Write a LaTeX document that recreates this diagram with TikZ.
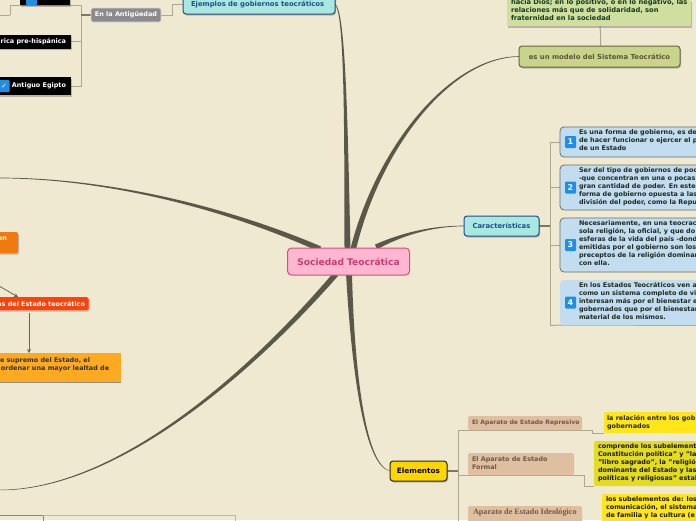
\documentclass[tikz,border=0pt]{standalone}
\usepackage{fontspec}
\setmainfont{DejaVu Sans}
\newfontfamily\seriffam{Liberation Serif}
\usetikzlibrary{calc,backgrounds,shadows,arrows.meta}
\definecolor{bg}{HTML}{EFE9D2}
\definecolor{trunkc}{HTML}{5A5848}
\definecolor{linec}{HTML}{ADA78F}
\definecolor{stubc}{HTML}{7D7866}
\definecolor{cardfill}{HTML}{C2DDF0}
\definecolor{cardline}{HTML}{6E6E60}
\definecolor{teal}{HTML}{A8E8E0}
\definecolor{navy}{HTML}{1F4E8C}
\definecolor{iconblue}{HTML}{1E8EE6}
\definecolor{tan}{HTML}{E0BFA0}
\definecolor{tantext}{HTML}{6B5A4A}
\definecolor{darktxt}{HTML}{1E2A20}
\tikzset{
  x=1pt,y=-1pt,
  lbl/.style={font=\bfseries\fontsize{6.85}{8}\selectfont,inner sep=0pt,outer sep=0pt},
  small/.style={font=\bfseries\fontsize{6.45}{8}\selectfont},
  boxn/.style={lbl,anchor=north west,align=left,rounded corners=#1},
  boxn/.default=3pt,
  softshadow/.style={general shadow={shadow xshift=1pt,shadow yshift=-1.5pt,fill=black,opacity=.22}},
  conn/.style={draw=linec,line width=1pt},
  stub/.style={draw=stubc,line width=1.6pt},
  arrowc/.style={draw=stubc!85!black,line width=.8pt,-{Stealth[length=4pt,width=4pt]}},
  iconbox/.style={lbl,fill=iconblue,text=white,minimum width=11pt,minimum height=12pt,align=center,rounded corners=1pt,font=\bfseries\fontsize{8}{8}\selectfont},
  card/.style={boxn=4pt,fill=cardfill,minimum width=220pt},
}
\newcommand{\trunk}[6]{% start, c1, c2, end, offset x, offset y (at the start)
  \fill[trunkc] ($#1+(#5,#6)$) .. controls ($#2+(#5*.55,#6*.55)$) and ($#3+(#5*.2,#6*.2)$) .. ($#4+(#5*.12,#6*.12)$)
   -- ($#4-(#5*.12,#6*.12)$) .. controls ($#3-(#5*.2,#6*.2)$) and ($#2-(#5*.55,#6*.55)$) .. ($#1-(#5,#6)$) -- cycle;}
\begin{document}
\begin{tikzpicture}
\useasboundingbox (0,0) rectangle (696,520);
\clip (0,0) rectangle (696,520);
\begin{scope}[on background layer]
\fill[bg] (0,0) rectangle (696,520);
\end{scope}

% central
\node[lbl,anchor=center,fill={rgb,255:red,255;green,182;blue,208},draw={rgb,255:red,208;green,80;blue,128},line width=1pt,rounded corners=4pt,minimum width=122pt,minimum height=27pt,text={rgb,255:red,200;green,62;blue,116},font=\bfseries\fontsize{9.1}{9}\selectfont] (central) at (348.5,261.5) {Sociedad Teocrática};

% top left
\node[lbl,fill=black,anchor=south west,minimum width=50pt,minimum height=20pt,softshadow] (egA) at (20,5) {};
\node[iconbox,anchor=south west,minimum height=6pt] (egAi) at (26,5) {};
\node[lbl,fill=black,anchor=east,minimum width=90pt,minimum height=14pt,softshadow] (egB) at (71,41.5) {};
\node[lbl,small,text=white,anchor=east] (egBT) at (66,41.5) {rica pre-hispánica};
\node[lbl,fill=black,anchor=east,minimum width=90pt,minimum height=18pt,softshadow] (egC) at (71,86) {};
\node[lbl,small,text=white,anchor=east] (egCT) at (66,86) {Antiguo Egipto};
\node[iconbox,anchor=center,minimum width=11pt,minimum height=12pt,font=\bfseries\fontsize{7}{7}\selectfont] (egCi) at (4,86) {✓};
\node[lbl,small,anchor=center,fill={rgb,255:red,140;green,138;blue,140},draw=white!70!gray,line width=.7pt,rounded corners=2pt,text=white,minimum width=70pt,minimum height=14pt] (ant) at (126,15) {En la Antigüedad};
\node[boxn=3pt,fill=teal,draw=navy,line width=1pt,anchor=south west,minimum width=152pt,minimum height=24pt,softshadow] (ejem) at (183,14) {};
\node[lbl,text=navy,anchor=west] (ejemT) at (191,4.5) {Ejemplos de gobiernos teocráticos};

% top right
\node[boxn=0pt,fill={rgb,255:red,208;green,222;blue,160},minimum width=184pt,minimum height=26pt,anchor=south west,softshadow] (model1) at (507,26) {};
\node[lbl,anchor=north west,align=left,text={rgb,255:red,20;green,60;blue,30},font=\bfseries\fontsize{6.7}{8}\selectfont] (model1T) at (511,-1) {hacia Dios; en lo positivo, o en lo negativo, las\\relaciones más que de solidaridad, son\\fraternidad en la sociedad};
\node[lbl,anchor=center,fill={rgb,255:red,200;green,212;blue,140},draw={rgb,255:red,107;green,99;blue,71},line width=1pt,rounded corners=3pt,minimum width=161pt,minimum height=21pt,text={rgb,255:red,93;green,85;blue,53},softshadow] (model) at (599.5,56.5) {es un modelo del Sistema Teocrático};

% caracteristicas
\node[lbl,anchor=center,fill=teal,draw=navy,line width=1pt,rounded corners=3pt,minimum width=75pt,minimum height=20pt,text=navy,softshadow] (car) at (501.5,226) {Características};
\node[card,draw=cardline,line width=.8pt,minimum height=30pt] (c1box) at (560,127) {};
\node[lbl,small,anchor=north west,align=left,text=darktxt] (c1) at (579,129.5) {Es una forma de gobierno, es de\\de hacer funcionar o ejercer el p\\de un Estado};
\node[card,draw=cardline,line width=.8pt,minimum height=45pt] (c2box) at (560,165) {};
\node[lbl,small,anchor=north west,align=left,text=darktxt] (c2) at (579,167.5) {Ser del tipo de gobiernos de pod\\-que concentran en una o pocas\\gran cantidad de poder. En este\\forma de gobierno opuesta a las\\división del poder, como la Repu};
\node[card,draw=cardline,line width=.8pt,minimum height=54pt] (c3box) at (560,218) {};
\node[lbl,small,anchor=north west,align=left,text=darktxt] (c3) at (579,220.5) {Necesariamente, en una teocrac\\sola religión, la oficial, y que do\\esferas de la vida del país -dond\\emitidas por el gobierno son los\\preceptos de la religión dominar\\con ella.};
\node[card,minimum height=45pt] (c4box) at (560,280) {};
\node[lbl,small,anchor=north west,align=left,text=darktxt] (c4) at (579,282.5) {En los Estados Teocráticos ven a\\como un sistema completo de vi\\interesan más por el bienestar e\\gobernados que por el bienestar\\material de los mismos.};
\node[iconbox] (i1) at (570.5,142) {1};
\node[iconbox] (i2) at (570.5,187.5) {2};
\node[iconbox] (i3) at (570.5,245) {3};
\node[iconbox] (i4) at (570.5,302.5) {4};

% elementos
\node[lbl,anchor=center,fill={rgb,255:red,255;green,215;blue,0},draw=black!85,line width=1pt,rounded corners=3pt,minimum width=57pt,minimum height=20pt,text=black,softshadow,font=\bfseries\fontsize{7.3}{8}\selectfont] (ele) at (418.5,471) {Elementos};
\node[boxn=1.5pt,fill=tan,minimum width=114pt,minimum height=14pt] (e1) at (468,416) {};
\node[lbl,anchor=west,text=tantext,font=\bfseries\fontsize{6.05}{8}\selectfont] (e1T) at (472,423) {El Aparato de Estado Represivo};
\node[boxn=1.5pt,fill=tan,minimum width=106pt,minimum height=22pt] (e2) at (468,453) {};
\node[lbl,anchor=west,align=left,text=tantext,font=\bfseries\fontsize{6.4}{8}\selectfont] (e2T) at (472,463.5) {El Aparato de Estado\\Formal};
\node[boxn=1.5pt,fill=tan,minimum width=114pt,minimum height=16pt] (e3) at (468,506) {};
\node[lbl,anchor=west,text=tantext,font=\seriffam\bfseries\fontsize{8.2}{8}\selectfont] (e3T) at (473,512.5) {Aparato de Estado Ideológico};
\node[boxn=2pt,fill={rgb,255:red,255;green,230;blue,25},minimum width=120pt,minimum height=21pt] (y1) at (604,412) {};
\node[lbl,small,anchor=north west,align=left,text=black!85] (y1T) at (607,415.5) {la relación entre los gob\\gobernados};
\node[boxn=2pt,fill={rgb,255:red,228;green,220;blue,30},minimum width=130pt,minimum height=45pt] (y2) at (594,441) {};
\node[lbl,small,anchor=north west,align=left,text=black!90] (y2T) at (598,443.5) {comprende los subelement\\Constitución política" y "la\\"libro sagrado", la "religión\\dominante del Estado y las\\políticas y religiosas" estal};
\node[boxn=2pt,fill={rgb,255:red,255;green,230;blue,25},minimum width=120pt,minimum height=40pt] (y3) at (602,494) {};
\node[lbl,small,anchor=north west,align=left,text=black!90] (y3T) at (606,497) {los subelementos de: los\\comunicación, el sistema\\de familia y la cultura (e};

% left middle
\node[boxn=2pt,anchor=east,fill={rgb,255:red,240;green,122;blue,16},minimum width=50pt,minimum height=21pt,softshadow] (ora) at (18,242.5) {};
\node[lbl,small,anchor=east,text=white] (oraT) at (7,238.5) {on};
\node[lbl,anchor=east,fill={rgb,255:red,255;green,66;blue,8},rounded corners=1.5pt,minimum width=130pt,minimum height=13pt,softshadow] (red) at (88.5,303.5) {};
\node[lbl,small,anchor=east,text=white] (redT) at (85,303.5) {as del Estado teocrático};
\node[boxn=0pt,anchor=north east,fill={rgb,255:red,253;green,170;blue,32},minimum width=160pt,minimum height=29pt] (amb) at (121,353) {};
\node[lbl,small,anchor=north west,align=left,text=black!80] (ambT) at (0,358) {e supremo del Estado, el\\\hspace{1pt}ordenar una mayor lealtad de};

% free ends
\coordinate (leftUp) at (0,178);
\coordinate (leftDown) at (0,490);
\coordinate (redFrom) at (0,286.5);
\coordinate (blA) at (0,515);
\coordinate (blB) at (43,515);
\coordinate (blC) at (235,515);

\begin{scope}[on background layer]
\trunk{(347.5,250)}{(346,120)}{(345,12)}{(335,4)}{3}{0}
\trunk{(353,250)}{(378,148)}{(450,57)}{(model.west)}{2.3}{2.3}
\trunk{(376,247)}{(400,235)}{(430,226)}{(car.west)}{1}{2.4}
\trunk{(349,273)}{(352,350)}{(362,465)}{(ele.west)}{3}{0}
\trunk{(320,249)}{(220,205)}{(100,178)}{(leftUp)}{1}{-2.6}
\trunk{(336,274)}{(240,385)}{(110,490)}{(leftDown)}{2}{2}

% antiguedad branch
\draw[conn] (10,15) -- (0,15);
\draw[conn] (10,5.5) -- (10,15);
\draw[conn] (10,5.5) -- (81,5.5) -- (81,86) -- (egC.east);
\draw[conn] (81,41.5) -- (egB.east);
\draw[stub] (ant.west) -- (81,15);
\draw[conn] (ant.east) -- (172,15) -- (172,4) -- (183,4);
\draw[conn] (600,26) -- (600.5,33) -- (600.5,46);

% caracteristicas branch
\draw[conn] (550,142) -- (550,325);
\draw[conn] (550,142) -- (c1box.west |- 0,142);
\draw[conn] (550,187.5) -- (c2box.west |- 0,187.5);
\draw[conn] (550,245) -- (c3box.west |- 0,245);
\draw[conn] (550,325.5) -- (c4box.south west) -- (710,325.5);
\draw[stub] (car.east) -- (550,226);

% elementos branch
\draw[conn] (458,430) -- (458,525);
\draw[stub] (ele.east) -- (458,471);
\draw[conn] (458,430) -- (592,430) -- (592,433) -- (y1.south west);
\draw[conn] (458,475.5) -- (584,475.5) -- (584,486) -- (y2.south west);

% bottom left
\draw[conn,draw=linec!80!black] (blA) -- (blB) -- (43,525);
\draw[conn,draw=linec!75!bg] (blB) -- (blC) -- (235,525);
\end{scope}

\draw[conn,draw=black!45] (amb.south west) -- (amb.south east);
\draw[arrowc] (redFrom) -- (18,297);
\draw[arrowc] (29,313) -- (amb.north -| 29,0);
\end{tikzpicture}
\end{document}
